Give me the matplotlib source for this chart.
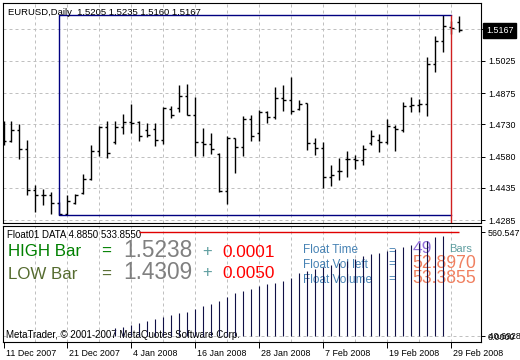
import matplotlib
matplotlib.use('Agg')
import matplotlib.pyplot as plt
import matplotlib.transforms as mtransforms
import numpy as np

plt.rcParams['font.family'] = ['Liberation Sans', 'DejaVu Sans']

# --- data (daily EURUSD bars, oldest first) ---
opens = [1.4704, 1.4653, 1.4705, 1.4614, 1.4423, 1.4403, 1.4400, 1.4366, 1.4311, 1.4366,
         1.4409, 1.4476, 1.4606, 1.4719, 1.4650, 1.4719, 1.4741, 1.4741, 1.4704, 1.4707,
         1.4656, 1.4800, 1.4805, 1.4862, 1.4774, 1.4650, 1.4637, 1.4591, 1.4421, 1.4665,
         1.4626, 1.4754, 1.4691, 1.4789, 1.4763, 1.4854, 1.4844, 1.4800, 1.4828, 1.4645,
         1.4619, 1.4487, 1.4513, 1.4567, 1.4567, 1.4564, 1.4645, 1.4657, 1.4647, 1.4717,
         1.4704, 1.4816, 1.4820, 1.4825, 1.5010, 1.5120, 1.5185, 1.5205]
highs = [1.4746, 1.4746, 1.4730, 1.4657, 1.4448, 1.4428, 1.4415, 1.4370, 1.4401, 1.4405,
         1.4499, 1.4634, 1.4724, 1.4746, 1.4746, 1.4778, 1.4823, 1.4746, 1.4735, 1.4738,
         1.4809, 1.4816, 1.4913, 1.4918, 1.4856, 1.4712, 1.4691, 1.4595, 1.4677, 1.4668,
         1.4770, 1.4774, 1.4797, 1.4792, 1.4905, 1.4913, 1.4952, 1.4844, 1.4831, 1.4668,
         1.4650, 1.4541, 1.4572, 1.4607, 1.4588, 1.4634, 1.4704, 1.4685, 1.4755, 1.4727,
         1.4833, 1.4856, 1.4847, 1.5045, 1.5141, 1.5238, 1.5210, 1.5235]
lows = [1.4634, 1.4647, 1.4570, 1.4401, 1.4324, 1.4355, 1.4313, 1.4309, 1.4310, 1.4360,
        1.4405, 1.4470, 1.4584, 1.4575, 1.4639, 1.4685, 1.4689, 1.4653, 1.4673, 1.4631,
        1.4639, 1.4758, 1.4789, 1.4774, 1.4584, 1.4584, 1.4594, 1.4414, 1.4358, 1.4502,
        1.4584, 1.4654, 1.4653, 1.4735, 1.4754, 1.4794, 1.4777, 1.4797, 1.4611, 1.4586,
        1.4433, 1.4445, 1.4471, 1.4484, 1.4522, 1.4541, 1.4634, 1.4603, 1.4639, 1.4607,
        1.4696, 1.4786, 1.4789, 1.4770, 1.4975, 1.5068, 1.5150, 1.5160]
closes = [1.4653, 1.4705, 1.4614, 1.4423, 1.4403, 1.4403, 1.4363, 1.4315, 1.4372, 1.4403,
          1.4476, 1.4606, 1.4719, 1.4595, 1.4719, 1.4741, 1.4738, 1.4677, 1.4681, 1.4656,
          1.4805, 1.4774, 1.4862, 1.4774, 1.4650, 1.4637, 1.4614, 1.4421, 1.4668, 1.4626,
          1.4754, 1.4676, 1.4789, 1.4763, 1.4851, 1.4844, 1.4794, 1.4823, 1.4645, 1.4619,
          1.4484, 1.4494, 1.4513, 1.4567, 1.4564, 1.4614, 1.4676, 1.4650, 1.4723, 1.4710,
          1.4816, 1.4819, 1.4825, 1.5010, 1.5118, 1.5189, 1.5177, 1.5167]
# Float01 histogram (indicator window)
float_vol = [0, 0, 0, 0, 0, 0, 0, 0, 0, 0,
             0, 0, 0, 0, 44, 53, 62, 71, 83, 94,
             107, 116, 125, 133, 150, 164, 174, 190, 212, 232,
             246, 258, 269, 282, 289, 300, 317, 340, 355, 361,
             375, 385, 394, 408, 415, 433, 444, 448, 460, 469,
             483, 492, 501, 514, 534, 543, 0, 3]

date_labels = ['11 Dec 2007', '21 Dec 2007', '4 Jan 2008', '16 Jan 2008',
               '28 Jan 2008', '7 Feb 2008', '19 Feb 2008', '29 Feb 2008']
price_ticks = [1.4285, 1.4435, 1.4580, 1.4730, 1.4875, 1.5025, 1.5172]
price_labels = ['1.4285', '1.4435', '1.4580', '1.4730', '1.4875', '1.5025', '']
high_bar, low_bar = 1.5238, 1.4309
high_add, low_add = 0.0001, 0.0050
start_bar, end_bar = 7, 56
vol_max = 560.5477
data_min, data_last = 4.8850, 533.8550
vol_left, vol_total = 52.8970, 53.3855

W, H = 520, 360
fig = plt.figure(figsize=(W / 100, H / 100), dpi=100)
fig.patch.set_facecolor('white')


def frac(x0, y0, x1, y1):
    return [x0 / W, 1 - y1 / H, (x1 - x0) / W, (y1 - y0) / H]


def fpos(px, py):
    return px / W, 1 - py / H


ax1 = fig.add_axes(frac(3, 3, 481, 223))
ax2 = fig.add_axes(frac(3, 225.5, 481, 341.5))

n = len(opens)
x = np.arange(n)
grid_kw = dict(color='#c0c0c0', lw=0.72, ls=(0, (3, 3)), zorder=0)

for ax in (ax1, ax2):
    ax.set_xlim(-0.0625, 59.6875)
    for k in range(4, n, 4):
        ax.axvline(k, **grid_kw)
    for s in ax.spines.values():
        s.set_linewidth(0.8)
        s.set_color('black')

# ---- price window ----
ax1.set_ylim(1.42711, 1.52949)
for p in price_ticks:
    ax1.axhline(p, **grid_kw)

ax1.vlines(x, lows, highs, color='black', lw=1.0, zorder=3)
ax1.hlines(opens, x - 0.35, x, color='black', lw=1.0, zorder=3)
ax1.hlines(closes, x, x + 0.35, color='black', lw=1.0, zorder=3)

# high/low box over the float window
ax1.plot([end_bar, start_bar, start_bar, end_bar], [high_bar, high_bar, low_bar, low_bar],
         color='#000080', lw=1.0, zorder=4)
ax1.vlines(end_bar, ax1.get_ylim()[0], high_bar, color='#d02020', lw=1.0, zorder=4)

ax1.yaxis.tick_right()
ax1.set_yticks(price_ticks, price_labels)
ax1.tick_params(axis='y', length=3, width=0.7, pad=2, labelsize=6.4)
ax1.tick_params(axis='x', bottom=False, labelbottom=False)

ax1.annotate(f'{closes[-1]:.4f}', xy=(1, closes[-1]), xycoords=('axes fraction', 'data'),
             xytext=(5, 0), textcoords='offset pixels', ha='left', va='center',
             color='white', fontsize=6.4, annotation_clip=False,
             bbox=dict(boxstyle='square,pad=0.3', fc='black', ec='black'))

fig.text(*fpos(8, 15), f'EURUSD,Daily  {opens[-1]:.4f} {highs[-1]:.4f} {lows[-1]:.4f} {closes[-1]:.4f}',
         fontsize=6.8, va='baseline', color='black')

# ---- indicator window ----
ax2.set_ylim(-26.9, 597.1)
ax2.axhline(0, **grid_kw)
vol = np.array(float_vol, dtype=float)
mask = vol > 0
ax2.vlines(x[mask], 0, vol[mask], color='#101045', lw=0.8, zorder=3)
ax2.hlines(vol_max, 17, 57, color='#e00000', lw=1.0, zorder=3)

ax2.yaxis.tick_right()
ax2.set_yticks([0, vol_max], ['0.0000', f'{vol_max:.4f}'])
ax2.tick_params(axis='y', length=3, width=0.7, pad=2, labelsize=6.4)
ax2.text(1, 0, '   40.6928', transform=ax2.get_yaxis_transform(), fontsize=6.4,
         ha='left', va='center', clip_on=False)

ax2.set_xticks(range(0, n, 8), date_labels)
ax2.tick_params(axis='x', length=4, width=0.7, pad=1.5, labelsize=6.4)
shift = mtransforms.ScaledTranslation(2 / 100, 0, fig.dpi_scale_trans)
for lab in ax2.get_xticklabels():
    lab.set_ha('left')
    lab.set_transform(lab.get_transform() + shift)


def t2(px, py, s, **kw):
    ax2.text(*fpos(px, py), s, transform=fig.transFigure, va='baseline', zorder=1, **kw)


t2(7, 238.5, f'Float01 DATA {data_min:.4f} {data_last:.4f}', fontsize=7, color='black')
t2(8, 256, 'HIGH Bar', fontsize=12.2, color='#008000')
t2(101, 256, '=', fontsize=12.2, color='#008000')
t2(123, 256.7, f'{high_bar:.4f}', fontsize=16.3, color='#808080')
t2(202.5, 256, '+', fontsize=12, color='#5F9EA0')
t2(222.6, 257.3, f'{high_add:.4f}', fontsize=12.4, color='#ff0000')

t2(8, 279, 'LOW Bar', fontsize=12.2, color='#556B2F')
t2(101, 279, '=', fontsize=12.2, color='#556B2F')
t2(123, 279.3, f'{low_bar:.4f}', fontsize=16.3, color='#808080')
t2(202.5, 276.5, '+', fontsize=12, color='#5F9EA0')
t2(222.6, 278.3, f'{low_add:.4f}', fontsize=12.4, color='#ff0000')

t2(303, 252.7, 'Float Time', fontsize=8.5, color='#4682B4')
t2(388.5, 254, '=', fontsize=8.5, color='#4682B4')
t2(412.5, 253.3, f'{end_bar - start_bar}', fontsize=12.5, color='#9370DB')
t2(449, 252.3, 'Bars', fontsize=8, color='#5F9EA0')

t2(303, 267.7, 'Float Vol left', fontsize=8.5, color='#4682B4')
t2(388.5, 267, '=', fontsize=8.5, color='#4682B4')
t2(412.5, 268.3, f'{vol_left:.4f}', fontsize=12.7, color='#F08060')

t2(303, 283.3, 'Float Volume', fontsize=8.5, color='#4682B4')
t2(388.5, 282, '=', fontsize=8.5, color='#4682B4')
t2(412.5, 283.3, f'{vol_total:.4f}', fontsize=12.7, color='#F08060')

t2(6.5, 338.5, 'MetaTrader, \u00a9 2001-2007 MetaQuotes Software Corp.', fontsize=7, color='black')

fig.savefig('out.png', dpi=100, facecolor='white')
